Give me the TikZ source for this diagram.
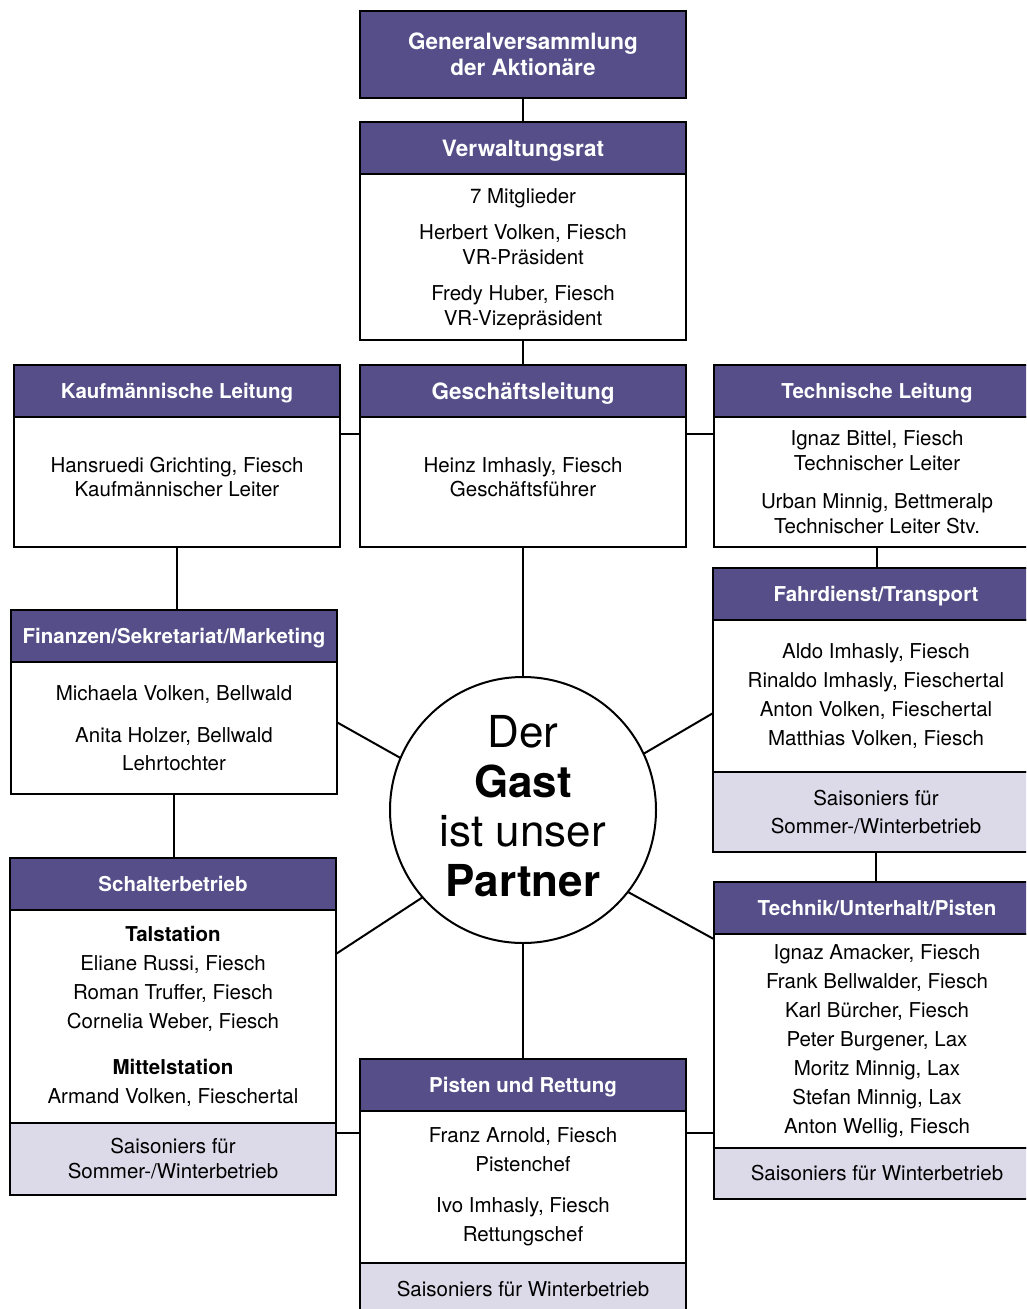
\documentclass[tikz,border=0pt]{standalone}
\usepackage{fontspec}
\setmainfont{TeX Gyre Heros}
\usetikzlibrary{positioning}
\definecolor{kopf}{RGB}{85,78,137}
\definecolor{saison}{RGB}{220,217,232}
\begin{document}
\begin{tikzpicture}[x=1pt,y=-1pt, line width=2pt,
    box/.style={draw=black, line width=2pt, minimum width=326, inner sep=0pt, outer sep=0pt, align=center},
    head/.style={box, fill=kopf, text=white, minimum height=52, text depth=0pt, font=\bfseries\fontsize{20.5}{24}\selectfont},
    bighead/.style={head, font=\bfseries\fontsize{22.5}{26}\selectfont},
    body/.style={box, fill=white, font=\fontsize{20.5}{24.5}\selectfont},
    liste/.style={box, fill=white, font=\fontsize{20.5}{29}\selectfont},
    saisonbox/.style={box, fill=saison, font=\fontsize{20.5}{28}\selectfont}]
  \useasboundingbox (0,0) rectangle (1026,1309);
  \clip (0,0) rectangle (1026,1309);
  % oben
  \node[bighead, minimum height=87] (gv) at (523,54.5) {Generalversammlung\\der Aktionäre};
  \node[bighead] (vrH) at (523,148) {Verwaltungsrat};
  \node[body, minimum height=166, text depth=0pt, below=0pt of vrH] (vrB) {7 Mitglieder\\[12pt]Herbert Volken, Fiesch\\VR-Präsident\\[12pt]Fredy Huber, Fiesch\\VR-Vizepräsident};
  % Leitung
  \node[bighead] (glH) at (523,391) {Geschäftsleitung};
  \node[body, minimum height=130, text depth=10pt, below=0pt of glH] (glB) {Heinz Imhasly, Fiesch\\Geschäftsführer};
  \node[head] (kfH) at (177,391) {Kaufmännische Leitung};
  \node[body, minimum height=130, text depth=10pt, below=0pt of kfH] (kfB) {Hansruedi Grichting, Fiesch\\Kaufmännischer Leiter};
  \node[head] (tlH) at (877,391) {Technische Leitung};
  \node[body, minimum height=130, below=0pt of tlH] (tlB) {Ignaz Bittel, Fiesch\\Technischer Leiter\\[14pt]Urban Minnig, Bettmeralp\\Technischer Leiter Stv.};
  % links
  \node[head] (finH) at (174,636) {Finanzen/Sekretariat/Marketing};
  \node[body, minimum height=132, below=0pt of finH, font=\fontsize{20.5}{28}\selectfont] (finB) {Michaela Volken, Bellwald\\[14pt]Anita Holzer, Bellwald\\Lehrtochter};
  \node[head] (schH) at (173,884) {Schalterbetrieb};
  \node[liste, minimum height=213, below=0pt of schH] (schB) {\textbf{Talstation}\\Eliane Russi, Fiesch\\Roman Truffer, Fiesch\\Cornelia Weber, Fiesch\\[17pt]\textbf{Mittelstation}\\Armand Volken, Fieschertal};
  \node[saisonbox, minimum height=72, below=0pt of schB, font=\fontsize{20.5}{25}\selectfont] (schS) {Saisoniers für\\Sommer-/Winterbetrieb};
  % rechts
  \node[head] (fdH) at (876,594) {Fahrdienst/Transport};
  \node[liste, minimum height=152, below=0pt of fdH] (fdB) {Aldo Imhasly, Fiesch\\Rinaldo Imhasly, Fieschertal\\Anton Volken, Fieschertal\\Matthias Volken, Fiesch};
  \node[saisonbox, minimum height=80, below=0pt of fdB] (fdS) {Saisoniers für\\Sommer-/Winterbetrieb};
  \node[head] (tuH) at (877,908) {Technik/Unterhalt/Pisten};
  \node[liste, minimum height=214, below=0pt of tuH] (tuB) {Ignaz Amacker, Fiesch\\Frank Bellwalder, Fiesch\\Karl Bürcher, Fiesch\\Peter Burgener, Lax\\Moritz Minnig, Lax\\Stefan Minnig, Lax\\Anton Wellig, Fiesch};
  \node[saisonbox, minimum height=51, below=0pt of tuB] (tuS) {Saisoniers für Winterbetrieb};
  % unten
  \node[head] (pisH) at (523,1085) {Pisten und Rettung};
  \node[liste, minimum height=152, below=0pt of pisH] (pisB) {Franz Arnold, Fiesch\\Pistenchef\\[12pt]Ivo Imhasly, Fiesch\\Rettungschef};
  \node[saisonbox, minimum height=52, below=0pt of pisB] (pisS) {Saisoniers für Winterbetrieb};
  % Mitte
  \node[draw, circle, fill=white, minimum size=266, inner sep=0pt, outer sep=0pt, text depth=8pt, align=center, font=\fontsize{44}{49.5}\selectfont] (gast) at (523,810) {Der\\\textbf{Gast}\\ist unser\\\textbf{Partner}};
  % Linien
  \coordinate (mitte) at (0,434);
  \coordinate (unten) at (0,1133);
  \draw (gv.south) -- (vrH.north);
  \draw (vrB.south) -- (glH.north);
  \draw (kfB.east |- mitte) -- (glB.west |- mitte);
  \draw (glB.east |- mitte) -- (tlB.west |- mitte);
  \draw (kfB.south) -- (kfB.south |- finH.north);
  \draw (finB.south) -- (finB.south |- schH.north);
  \draw (tlB.south) -- (tlB.south |- fdH.north);
  \draw (fdS.south) -- (fdS.south |- tuH.north);
  \draw (glB.south) -- (gast.north);
  \draw (gast.south) -- (pisH.north);
  \draw (finB.2) -- (gast.157.5);
  \draw (schB.21.3) -- (gast.221);
  \draw (fdB.186) -- (gast.25);
  \draw (tuB.148.5) -- (gast.322.4);
  \draw (schS.east |- unten) -- (pisB.west |- unten);
  \draw (pisB.east |- unten) -- (tuB.west |- unten);
\end{tikzpicture}
\end{document}
